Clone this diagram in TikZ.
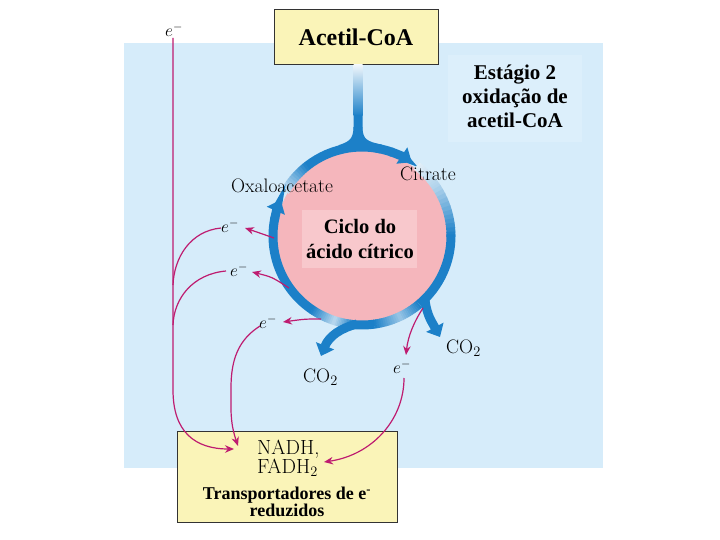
\documentclass[tikz,border=0pt]{standalone}
\usepackage{fontspec}
\newfontfamily\tms{Liberation Serif}
\usetikzlibrary{arrows.meta}
\definecolor{bgblue}{RGB}{214,236,250}
\definecolor{estblue}{RGB}{220,239,251}
\definecolor{boxyellow}{RGB}{250,244,184}
\definecolor{cyclepink}{RGB}{245,182,188}
\definecolor{textpink}{RGB}{248,200,204}
\definecolor{ringblue}{RGB}{28,128,200}
\definecolor{emag}{RGB}{190,28,112}
\tikzset{
  ringline/.style={line width=9pt, line cap=butt, draw=ringblue},
  ybox/.style={draw=black!80, line width=0.8pt, fill=boxyellow, inner sep=0pt},
  eline/.style={draw=emag, line width=1.2pt},
  earrow/.style={eline, -{Stealth[length=9pt,width=7.5pt]}},
  elabel/.style={font=\fontsize{16.5}{16.5}\selectfont, inner sep=1pt},
  chem/.style={font=\fontsize{19.5}{19.5}\selectfont, inner sep=0pt},
  bigtxt/.style={font=\tms\bfseries\fontsize{21}{24}\selectfont, align=center, inner sep=0pt},
  co2arrow/.style={ringline, -{Triangle[length=11pt,width=19pt]}},
}
\newcommand\ringfade[5]{%
  \foreach \k in {0,...,11}{%
    \pgfmathsetmacro\aa{#2+(#3-#2)*\k/12}%
    \pgfmathsetmacro\bb{#2+(#3-#2)*(\k+1.2)/12}%
    \pgfmathsetmacro\pp{#4+(#5-#4)*(\k+0.5)/12}%
    \draw[ringline, draw=ringblue!\pp!white] ([shift={(\aa:89pt)}]#1) arc[start angle=\aa, end angle=\bb, radius=89pt];
  }}
\begin{document}
\begin{tikzpicture}[x=1pt,y=1pt]
\useasboundingbox (0,0) rectangle (720,-540);
\fill[white] (0,0) rectangle (720,-540);
\fill[bgblue] (124,-43) rectangle (603,-468);
\fill[estblue] (448,-55) rectangle (582,-142);

% cycle
\node[circle, fill=cyclepink, minimum size=172pt, inner sep=0pt] (cycle) at (362,-236) {};
\fill[textpink] (302,-210) rectangle (417,-268);

% top arc with arrow
\ringfade{cycle.center}{150}{128}{20}{100}
\draw[ringline] ([shift={(128:89pt)}]cycle.center) arc[start angle=128, end angle=70, radius=89pt];
\draw[ringline, -{Triangle[length=12pt,width=19pt]}] ([shift={(71:89pt)}]cycle.center) arc[start angle=71, end angle=56, radius=89pt];

% rest of ring
\ringfade{cycle.center}{52}{33}{12}{35}
\ringfade{cycle.center}{33}{0}{35}{100}
\draw[ringline] ([shift={(1:89pt)}]cycle.center) arc[start angle=1, end angle=-50, radius=89pt];
\ringfade{cycle.center}{-50}{-65}{100}{45}
\ringfade{cycle.center}{-65}{-82}{45}{100}
\draw[ringline] ([shift={(-82:89pt)}]cycle.center) arc[start angle=-82, end angle=-96, radius=89pt];
\ringfade{cycle.center}{-96}{-108}{100}{30}
\ringfade{cycle.center}{-108}{-124}{30}{100}
\draw[ringline] ([shift={(-124:89pt)}]cycle.center) arc[start angle=-124, end angle=-192, radius=89pt];
\draw[ringline, -{Triangle[length=12pt,width=19pt]}] ([shift={(-191:89pt)}]cycle.center) arc[start angle=-191, end angle=-204, radius=89pt];

% CO2 branches
\draw[co2arrow] (425,-300) .. controls (427,-316) and (432,-322) .. (440,-337);
\draw[co2arrow] (357,-324) .. controls (341,-328) and (329,-336) .. (321,-356);

% acetyl-CoA box and stem
\node[ybox, minimum width=164pt, minimum height=55pt] (acetil) at (356,-36.5) {};
\node[font=\tms\bfseries\fontsize{24}{24}\selectfont, inner sep=0pt] (acetiltxt) at (356,-37) {Acetil-CoA};
\shade[top color=ringblue!6, bottom color=ringblue] (353.5,-64.4) rectangle (362.5,-116);
\draw[ringline] (358,-115) -- (358,-127) .. controls (358,-143) and (366,-146) .. (381,-149);
\draw[ringline] (358,-127) .. controls (358,-143) and (350,-146) .. (340,-149.5);

% texts
\node[bigtxt] (estagio) at (515,-96) {Estágio 2\\oxidação de\\acetil-CoA};
\node[bigtxt, font=\tms\bfseries\fontsize{20.5}{25}\selectfont] (ciclo) at (360,-238.5) {Ciclo do\\ácido cítrico};
\node[chem, anchor=base west] (oxa) at (231,-193) {Oxaloacetate};
\node[chem, anchor=base west] (citrate) at (400,-181) {Citrate};
\node[chem, anchor=base west] (co2r) at (446,-353) {CO$_2$};
\node[chem, anchor=base west] (co2b) at (303,-382) {CO$_2$};

% carriers box
\node[ybox, minimum width=220pt, minimum height=91pt] (carrier) at (287,-476.5) {};
\node[chem, font=\fontsize{20.5}{20.5}\selectfont, anchor=base west] (nadh) at (257,-454) {NADH,};
\node[chem, font=\fontsize{20.5}{20.5}\selectfont, anchor=base west] (fadh) at (257,-473) {FADH$_2$};
\node[font=\tms\bfseries\fontsize{18}{17}\selectfont, align=center, inner sep=0pt] (transp) at (287,-502) {Transportadores de e\textsuperscript{-}\\reduzidos};

% electron labels
\node[elabel] (e0) at (174,-30) {$e^-$};
\node[elabel] (e1) at (230,-226) {$e^-$};
\node[elabel] (e2) at (239,-270) {$e^-$};
\node[elabel] (e3) at (268,-322) {$e^-$};
\node[elabel] (e4) at (402,-367) {$e^-$};

% electrons leaving the cycle
\draw[earrow] (274,-238) .. controls (263,-234) .. (245,-228);
\draw[earrow] (289,-288) .. controls (272,-277) .. (252,-272);
\draw[earrow] (321,-319) .. controls (305,-319) .. (283,-322);
\draw[earrow] (423,-308) .. controls (414,-322) and (408,-336) .. (406,-355);

% electrons to carriers
\coordinate (j1) at (173,-285);
\coordinate (j2) at (173,-325);
\draw[earrow] (e0.south) ++(-1,0) -- (173,-390) .. controls (173,-432) and (195,-449) .. (234,-449);
\draw[eline] (221,-228) .. controls (190,-231) and (174,-258) .. (j1);
\draw[eline] (226,-271) .. controls (193,-274) and (174,-298) .. (j2);
\draw[earrow] (260,-326) .. controls (238,-340) and (231,-360) .. (231,-388) -- (231,-408) .. controls (231,-424) and (234,-434) .. (238,-446);
\draw[earrow] (404,-378) .. controls (404,-420) and (372,-455) .. (324,-462);
\end{tikzpicture}
\end{document}
